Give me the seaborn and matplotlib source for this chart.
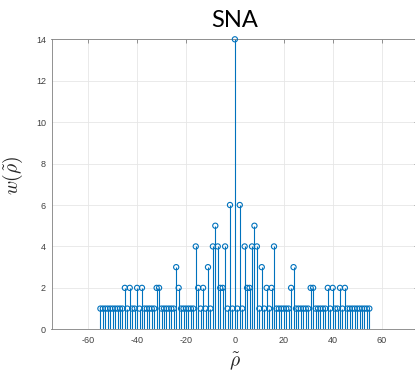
import matplotlib
matplotlib.use("Agg")
import matplotlib.pyplot as plt
import seaborn as sns
import pandas as pd

# ---- data ----
rho = list(range(-55, 56))
weights = [
    # -55 .. -46
    1, 1, 1, 1, 1, 1, 1, 1, 1, 1,
    # -45 .. -38
    2, 1, 2, 1, 1, 2, 1, 2,
    # -37 .. -33
    1, 1, 1, 1, 1,
    # -32, -31
    2, 2,
    # -30 .. -25
    1, 1, 1, 1, 1, 1,
    # -24, -23
    3, 2,
    # -22 .. -17
    1, 1, 1, 1, 1, 1,
    # -16 .. -1
    4, 2, 1, 2, 1, 3, 1, 4, 5, 4, 2, 2, 4, 1, 6, 1,
    # 0
    14,
    # 1 .. 16
    1, 6, 1, 4, 2, 2, 4, 5, 4, 1, 3, 1, 2, 1, 2, 4,
    # 17 .. 22
    1, 1, 1, 1, 1, 1,
    # 23, 24
    2, 3,
    # 25 .. 30
    1, 1, 1, 1, 1, 1,
    # 31, 32
    2, 2,
    # 33 .. 37
    1, 1, 1, 1, 1,
    # 38 .. 45
    2, 1, 2, 1, 1, 2, 1, 2,
    # 46 .. 55
    1, 1, 1, 1, 1, 1, 1, 1, 1, 1,
]
xticks = [-60, -40, -20, 0, 20, 40, 60]
yticks = [0, 2, 4, 6, 8, 10, 12, 14]
title = "SNA"

df = pd.DataFrame({"rho": rho, "w": weights})

# ---- style ----
sns.set_theme(style="white")
plt.rcParams["mathtext.fontset"] = "cm"
plt.rcParams["font.family"] = ["Liberation Sans", "DejaVu Sans"]

blue = "#0072BD"

fig = plt.figure(figsize=(4.15, 3.71), dpi=100)
W, H = 415, 371
ax = fig.add_axes([51.5 / W, (H - 329.3) / H, 366.75 / W, 290 / H])

ax.vlines(df["rho"], 0, df["w"], color=blue, lw=0.8, zorder=2)
sns.scatterplot(data=df, x="rho", y="w", marker="o", s=14,
                facecolor="none", edgecolor=blue, linewidth=0.8,
                ax=ax, zorder=3, legend=False, clip_on=False)

ax.set_xlim(-75, 75)
ax.set_ylim(0, 14)
ax.set_xticks(xticks)
ax.set_yticks(yticks)
ax.set_xticklabels([str(t) for t in xticks])
ax.set_yticklabels([str(t) for t in yticks])

ax.grid(True, color="#e6e6e6", lw=0.6)
ax.set_axisbelow(True)
for sp in ax.spines.values():
    sp.set_visible(True)
    sp.set_color("#808080")
    sp.set_linewidth(0.6)

ax.tick_params(direction="in", length=3, width=0.6, color="#808080",
               labelsize=6.5, labelcolor="#404040", top=True, right=True)
ax.tick_params(axis="y", pad=4)
ax.tick_params(axis="x", pad=5)

ax.set_xlabel(r"$\tilde{\rho}$", fontsize=14, color="#262626")
ax.set_ylabel(r"$w(\tilde{\rho})$", fontsize=14, color="#262626")
ax.xaxis.set_label_coords(0.5, -0.07)
ax.yaxis.set_label_coords(-0.072, 0.53)

ax.set_title(title, fontsize=17, family=["Lato", "DejaVu Sans"], pad=9,
             color="black")

fig.savefig("out.png", dpi=100)
